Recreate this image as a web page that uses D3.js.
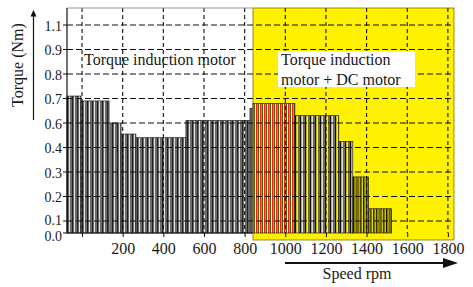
<!DOCTYPE html>
<html>
<head>
<meta charset="utf-8">
<script src="https://cdn.jsdelivr.net/npm/d3@7/dist/d3.min.js"></script>
<style>
body { margin: 0; background: #fff; }
svg { display: block; font-family: "Liberation Serif", "Times New Roman", serif; }
</style>
</head>
<body>
<svg width="473" height="287"></svg>
<script>
// torque steps (speed in rpm, torque as labelled in Nm)
var stepStart  = [-74, -5, 133, 192, 265, 511, 826, 841, 1047, 1263, 1332, 1410];
var stepEnd    = [-5, 133, 192, 265, 511, 826, 836, 1047, 1263, 1332, 1410, 1523];
var stepTorque = [0.71, 0.69, 0.60, 0.51, 0.48, 0.61, 0.66, 0.68, 0.63, 0.45, 0.28, 0.15];

var dcStart = 841;   // DC motor helps from here on (yellow zone)
var speedMin = -74, speedMax = 1830;

var xTicks = [0, 200, 400, 600, 800, 1000, 1200, 1400, 1600, 1800];
var xTickLabels = ["", "200", "400", "600", "800", "1000", "1200", "1400", "1600", "1800"];
var yTicks = [0.0, 0.1, 0.2, 0.3, 0.4, 0.6, 0.7, 0.8, 0.9, 1.1];
var yTickLabels = ["0.0", "0.1", "0.2", "0.3", "0.4", "0.6", "0.7", "0.8", "0.9", "1.1"];

var svg = d3.select("svg");
var margin = {left: 67, right: 19, top: 8};
var plotW = +svg.attr("width") - margin.left - margin.right;
var bottom = 233;

var x = d3.scaleLinear()
    .domain([speedMin, speedMax])
    .range([margin.left, margin.left + plotW]);

// the printed axis is not evenly labelled, so map label -> gridline
var gridStep = 24.5;
var y = d3.scaleLinear()
    .domain(yTicks)
    .range(yTicks.map(function(d, i) { return i === 0 ? bottom : bottom - 12 - (i - 1) * gridStep; }));

var defs = svg.append("defs");
function stripes(id, w, parts) {
    var p = defs.append("pattern")
        .attr("id", id)
        .attr("patternUnits", "userSpaceOnUse")
        .attr("width", w).attr("height", 10);
    parts.forEach(function(s) {
        p.append("rect").attr("x", s[0]).attr("width", s[1]).attr("height", 10).attr("fill", s[2]);
    });
}
stripes("im", 5, [[0, 5, "#6c6c6c"], [2.2, 1.5, "#0d0d0d"], [3.7, 1.1, "#fff"]]);
stripes("dcRed", 4, [[0, 4, "#f2e200"], [0, 1.1, "#e0281c"], [1.7, 1.1, "#3a3500"], [3, 0.7, "#fff"]]);
stripes("dc", 5, [[0, 5, "#7e7e7e"], [0, 1.3, "#0d0d0d"], [1.3, 0.9, "#f2e400"], [2.3, 0.9, "#fff"], [3.3, 1.1, "#5e5600"]]);
stripes("dcLow", 3.3, [[0, 3.3, "#f3e600"], [0, 1.2, "#141200"], [1.7, 0.8, "#6e6500"]]);

function fillFor(i) {
    var s = stepStart[i];
    if (s < dcStart) return "url(#im)";
    if (s < 1047) return "url(#dcRed)";
    if (stepTorque[i] > 0.35) return "url(#dc)";
    return "url(#dcLow)";
}

// yellow zone
svg.append("rect")
    .attr("x", x(dcStart))
    .attr("y", margin.top)
    .attr("width", x(speedMax) - x(dcStart))
    .attr("height", 240 - margin.top)
    .attr("fill", "#fff100")
    .attr("stroke", "#7a7300")
    .attr("stroke-width", 0.8);

// torque steps
svg.append("g").selectAll("rect")
    .data(stepTorque)
    .enter().append("rect")
        .attr("x", function(d, i) { return x(stepStart[i]); })
        .attr("width", function(d, i) { return x(stepEnd[i]) - x(stepStart[i]); })
        .attr("y", function(d) { return y(d); })
        .attr("height", function(d) { return y(0) - y(d); })
        .attr("fill", function(d, i) { return fillFor(i); })
        .attr("stroke", "#222")
        .attr("stroke-width", 0.7);

// dashed grid
var grid = svg.append("g")
    .attr("stroke", "#111")
    .attr("stroke-width", 1.1);
grid.selectAll(".h")
    .data(yTicks.slice(1))
    .enter().append("line")
        .attr("x1", x(speedMin)).attr("x2", x(speedMax))
        .attr("y1", function(d) { return y(d); })
        .attr("y2", function(d) { return y(d); })
        .attr("stroke-dasharray", "6,3");
grid.selectAll(".v")
    .data(xTicks)
    .enter().append("line")
        .attr("x1", function(d) { return x(d); })
        .attr("x2", function(d) { return x(d); })
        .attr("y1", margin.top).attr("y2", bottom)
        .attr("stroke-dasharray", "4,3");

// frame
svg.append("line")
    .attr("x1", x(speedMin)).attr("x2", x(dcStart))
    .attr("y1", margin.top).attr("y2", margin.top)
    .attr("stroke", "#999").attr("stroke-width", 1);
svg.append("line")
    .attr("x1", x(speedMin)).attr("x2", x(speedMin))
    .attr("y1", margin.top).attr("y2", bottom)
    .attr("stroke", "#111").attr("stroke-width", 1.2);
svg.append("line")
    .attr("x1", x(speedMin)).attr("x2", x(dcStart))
    .attr("y1", bottom).attr("y2", bottom)
    .attr("stroke", "#111").attr("stroke-width", 1.2);

// x axis
var xAxis = svg.append("g")
    .attr("transform", "translate(0," + bottom + ")")
    .call(d3.axisBottom(x)
        .tickValues(xTicks)
        .tickSize(4)
        .tickFormat(function(d, i) { return xTickLabels[i]; }));
xAxis.attr("font-family", null);
xAxis.select(".domain").remove();
xAxis.selectAll("line").attr("stroke", "#111");
xAxis.selectAll("text")
    .attr("y", 9.5)
    .attr("fill", "#1a1a1a")
    .style("font-size", "16px")
    .style("font-family", "'Liberation Serif', serif");

// y axis
var yAxis = svg.append("g");
yAxis.selectAll("line")
    .data(yTicks)
    .enter().append("line")
        .attr("x1", 63).attr("x2", x(speedMin))
        .attr("y1", function(d) { return y(d); })
        .attr("y2", function(d) { return y(d); })
        .attr("stroke", "#111");
yAxis.selectAll("text")
    .data(yTicks)
    .enter().append("text")
        .attr("x", 62)
        .attr("y", function(d, i) { return y(d) + (i === 0 ? 3.5 : i === 1 ? -0.5 : 1); })
        .attr("dy", "0.35em")
        .attr("text-anchor", "end")
        .attr("fill", "#1a1a1a")
        .style("font-size", "14px")
        .text(function(d, i) { return yTickLabels[i]; });

// zone captions
svg.append("text")
    .attr("x", 84).attr("y", 65)
    .attr("fill", "#1a1a1a")
    .style("font-size", "16px")
    .text("Torque induction motor");
svg.append("rect")
    .attr("x", 278).attr("y", 51)
    .attr("width", 137).attr("height", 36)
    .attr("fill", "#fff");
svg.append("text")
    .attr("x", 281).attr("y", 64.5)
    .attr("fill", "#1a1a1a")
    .style("font-size", "16px")
    .text("Torque induction");
svg.append("text")
    .attr("x", 281).attr("y", 85)
    .attr("fill", "#1a1a1a")
    .style("font-size", "16px")
    .text("motor + DC motor");

// axis titles with arrows
svg.append("text")
    .attr("transform", "translate(23,65) rotate(-90)")
    .attr("text-anchor", "middle")
    .attr("fill", "#1a1a1a")
    .style("font-size", "16px")
    .text("Torque (Nm)");
svg.append("line")
    .attr("x1", 33.5).attr("x2", 33.5)
    .attr("y1", 120).attr("y2", 15)
    .attr("stroke", "#111").attr("stroke-width", 1.2);
svg.append("path")
    .attr("d", "M33.5,10 L36.5,16.5 L30.5,16.5 Z")
    .attr("fill", "#111");

svg.append("text")
    .attr("x", 357).attr("y", 279)
    .attr("text-anchor", "middle")
    .attr("fill", "#1a1a1a")
    .style("font-size", "16px")
    .text("Speed rpm");
svg.append("line")
    .attr("x1", 285).attr("x2", 445)
    .attr("y1", 263).attr("y2", 263)
    .attr("stroke", "#111").attr("stroke-width", 2);
svg.append("path")
    .attr("d", "M458,263 L443,258 L443,268 Z")
    .attr("fill", "#111");
</script>
</body>
</html>
